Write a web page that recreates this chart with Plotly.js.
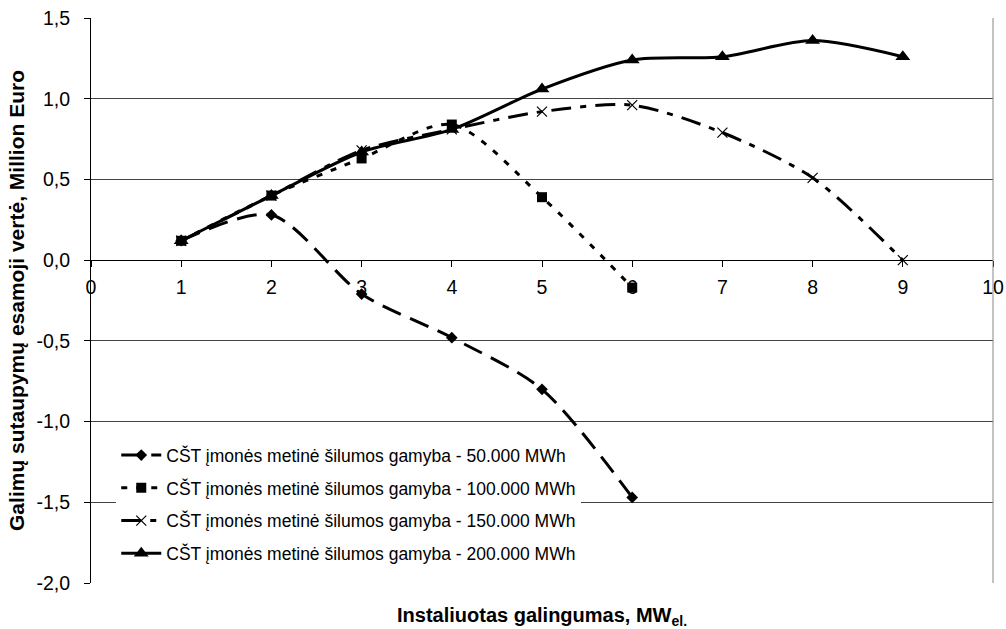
<!DOCTYPE html>
<html>
<head>
<meta charset="utf-8">
<script src="https://cdn.plot.ly/plotly-3.0.1.min.js"></script>
<style>
  html, body { margin: 0; padding: 0; background: #fff; }
  #chart { width: 1006px; height: 629px; }
</style>
</head>
<body>
<div id="chart"></div>
<script>
// Installed capacity, MW (el.)
const capacity = [1, 2, 3, 4, 5, 6, 7, 8, 9];

// Present value of possible savings, million EUR, per annual heat production
const npv50k  = [0.12, 0.28, -0.21, -0.48, -0.80, -1.47];
const npv100k = [0.12, 0.40, 0.63, 0.84, 0.39, -0.17];
const npv150k = [0.12, 0.40, 0.68, 0.81, 0.92, 0.96, 0.79, 0.51, 0.00];
const npv200k = [0.12, 0.40, 0.67, 0.81, 1.06, 1.24, 1.26, 1.36, 1.26];

const seriesNames = [
  'CŠT įmonės metinė šilumos gamyba - 50.000 MWh',
  'CŠT įmonės metinė šilumos gamyba - 100.000 MWh',
  'CŠT įmonės metinė šilumos gamyba - 150.000 MWh',
  'CŠT įmonės metinė šilumos gamyba - 200.000 MWh'
];

const yTicks = [1.5, 1.0, 0.5, 0.0, -0.5, -1.0, -1.5, -2.0];
const xTicks = [0, 1, 2, 3, 4, 5, 6, 7, 8, 9, 10];

const yMin = -2.0, yMax = 1.5;
const font = 'Liberation Sans, Arial, sans-serif';

// decimal comma and a plain hyphen for negatives
const yTickText = yTicks.map(v => v.toFixed(1).replace('.', ','));

function series(values, name, dash, symbol, size, group) {
  return {
    x: capacity.slice(0, values.length),
    y: values,
    name: name,
    type: 'scatter',
    mode: 'lines+markers',
    legendgroup: group,
    line: { color: '#000', width: 3, dash: dash, shape: 'spline', smoothing: 0.8 },
    marker: { symbol: symbol, size: size, color: '#000',
              line: { color: '#000', width: symbol === 'x-thin' ? 1.2 : 0 } },
    cliponaxis: false
  };
}

const traces = [
  series(npv50k,  seriesNames[0], '20px,10px', 'diamond', 9, 'a'),
  series(npv100k, seriesNames[1], '6px,9px', 'square', 10, 'b'),
  series(npv150k, seriesNames[2], '20px,9px,6px,9px', 'x-thin', 10, 'c'),
  series(npv200k, seriesNames[3], 'solid', 'triangle-up', 13, 'd')
];

const layout = {
  width: 1006,
  height: 629,
  margin: { l: 91, r: 13, t: 18, b: 46 },
  paper_bgcolor: '#fff',
  plot_bgcolor: '#fff',
  font: { family: font, color: '#000', size: 16 },
  showlegend: true,
  legend: {
    x: 0.028, y: 0.258, xanchor: 'left', yanchor: 'top',
    bgcolor: '#fff', borderwidth: 0,
    font: { family: font, size: 17.5, color: '#000' },
    traceorder: 'grouped',
    tracegroupgap: 7,
    itemwidth: 40
  },
  xaxis: {
    range: [0, 10],
    tickvals: xTicks,
    ticktext: xTicks.map(String),
    anchor: 'free',
    position: (0 - yMin) / (yMax - yMin),
    showgrid: false,
    zeroline: false,
    showline: true,
    linecolor: '#000',
    linewidth: 1,
    ticks: 'outside',
    ticklen: 6,
    tickcolor: '#000',
    ticklabelstandoff: 3,
    tickfont: { family: font, size: 19.5 },
    fixedrange: true
  },
  yaxis: {
    range: [yMin, yMax],
    tickvals: yTicks,
    ticktext: yTickText,
    showgrid: true,
    gridcolor: '#444',
    gridwidth: 1,
    zeroline: false,
    showline: true,
    linecolor: '#000',
    linewidth: 1,
    ticks: 'outside',
    ticklen: 6,
    tickcolor: '#000',
    ticklabelstandoff: 10,
    tickfont: { family: font, size: 19.5 },
    title: {
      text: '<b>Galimų sutaupymų esamoji vertė, Million Euro</b>',
      font: { family: font, size: 21 },
      standoff: 6
    },
    fixedrange: true
  },
  annotations: [{
    xref: 'paper', yref: 'paper', x: 0.5, y: 0, yshift: -48,
    xanchor: 'center', yanchor: 'bottom', showarrow: false,
    text: '<b>Instaliuotas galingumas, MW<sub>el.</sub></b>',
    font: { family: font, size: 20 }
  }],
  shapes: [{
    type: 'line', xref: 'paper', yref: 'paper',
    x0: 1, x1: 1, y0: 0, y1: 1,
    line: { color: '#888', width: 1 }
  }]
};

Plotly.newPlot('chart', traces, layout, { displayModeBar: false, staticPlot: true });
</script>
</body>
</html>
